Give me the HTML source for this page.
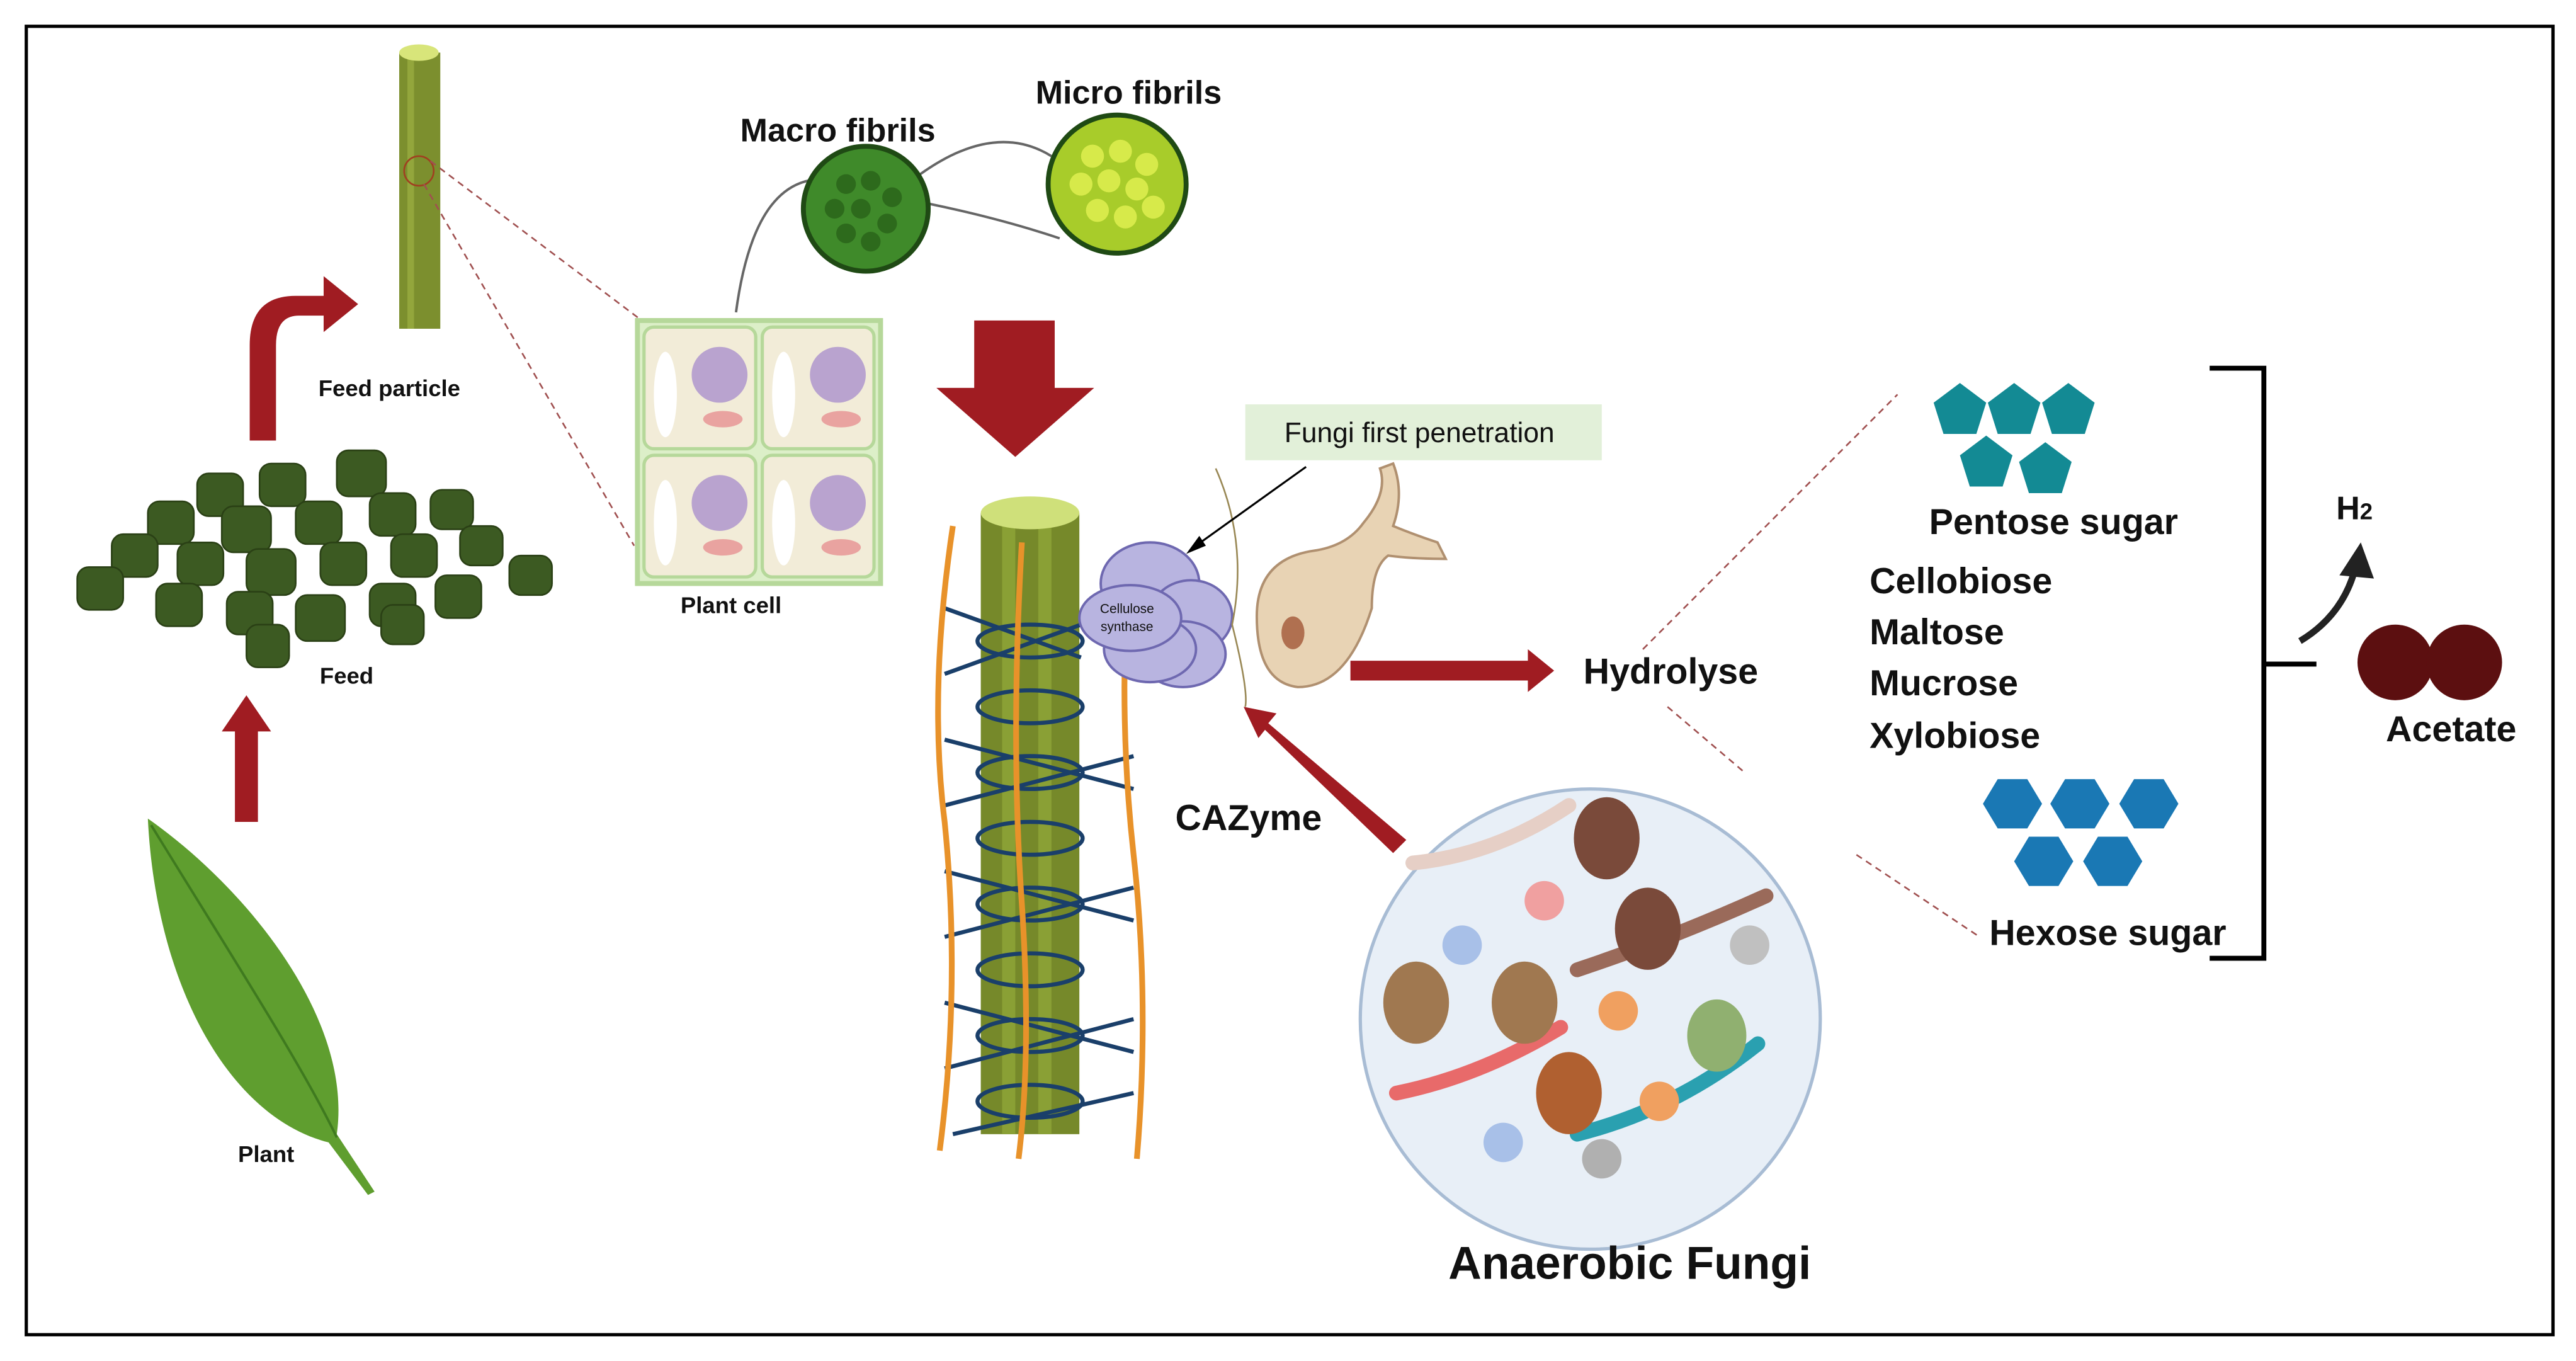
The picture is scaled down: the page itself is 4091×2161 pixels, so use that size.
<!DOCTYPE html>
<html><head><meta charset="utf-8"><style>
html,body{margin:0;padding:0;background:#fff}
svg{display:block}
text{font-family:"Liberation Sans",sans-serif;fill:#111}
.b{font-weight:bold}
</style></head><body>
<svg width="4091" height="2161" viewBox="0 0 1568 828" preserveAspectRatio="none" xmlns="http://www.w3.org/2000/svg">
<rect x="0" y="0" width="1568" height="828" fill="#fff"/>
<rect x="16" y="16" width="1538" height="796" fill="none" stroke="#000" stroke-width="2"/>

<!-- Leaf -->
<path d="M90,498 C150,540 215,620 205,690 L228,725 L224,727 L200,695 C140,680 95,600 90,498 Z" fill="#5f9e2f"/>
<path d="M92,502 C140,580 185,650 205,692" stroke="#3f7a1f" stroke-width="1.5" fill="none"/>
<text class="b" x="162" y="707" font-size="14" text-anchor="middle">Plant</text>

<path d="M143,500 L143,445 L135,445 L150,423 L165,445 L157,445 L157,500 Z" fill="#a01c22"/>

<!-- Feed pellets -->
<g fill="#3c5a22" stroke="#2a4015" stroke-width="1">
<rect x="120" y="288" width="28" height="26" rx="7"/><rect x="158" y="282" width="28" height="26" rx="7"/><rect x="205" y="274" width="30" height="28" rx="7"/>
<rect x="90" y="305" width="28" height="26" rx="7"/><rect x="135" y="308" width="30" height="28" rx="7"/><rect x="180" y="305" width="28" height="26" rx="7"/><rect x="225" y="300" width="28" height="26" rx="7"/><rect x="262" y="298" width="26" height="24" rx="7"/>
<rect x="68" y="325" width="28" height="26" rx="7"/><rect x="108" y="330" width="28" height="26" rx="7"/><rect x="150" y="334" width="30" height="28" rx="7"/><rect x="195" y="330" width="28" height="26" rx="7"/><rect x="238" y="325" width="28" height="26" rx="7"/><rect x="280" y="320" width="26" height="24" rx="7"/><rect x="310" y="338" width="26" height="24" rx="7"/>
<rect x="47" y="345" width="28" height="26" rx="7"/><rect x="95" y="355" width="28" height="26" rx="7"/><rect x="138" y="360" width="28" height="26" rx="7"/><rect x="180" y="362" width="30" height="28" rx="7"/><rect x="225" y="355" width="28" height="26" rx="7"/><rect x="265" y="350" width="28" height="26" rx="7"/><rect x="150" y="380" width="26" height="26" rx="7"/><rect x="232" y="368" width="26" height="24" rx="7"/>
</g>
<text class="b" x="211" y="416" font-size="14" text-anchor="middle">Feed</text>

<path d="M152,268 L152,210 Q152,180 180,180 L197,180 L197,168 L218,185 L197,202 L197,192 L182,192 Q168,192 168,210 L168,268 Z" fill="#a01c22"/>

<rect x="243" y="32" width="25" height="168" fill="#7c8f2e"/>
<rect x="248" y="32" width="4" height="168" fill="#93a63c"/>
<ellipse cx="255" cy="32" rx="12" ry="5" fill="#d8e57a"/>
<circle cx="255" cy="104" r="9" fill="none" stroke="#a04020" stroke-width="1"/>
<text class="b" x="237" y="241" font-size="14" text-anchor="middle">Feed particle</text>
<path d="M262,98 L392,196 M258,112 L386,332" stroke="#a05050" stroke-width="1" stroke-dasharray="4,3" fill="none"/>

<!-- Plant cell -->
<rect x="388" y="195" width="148" height="160" fill="#dcefc8" stroke="#b6d89a" stroke-width="3"/>
<g fill="#f2ecd8" stroke="#b6d89a" stroke-width="2">
<rect x="392" y="199" width="68" height="74" rx="6"/><rect x="464" y="199" width="68" height="74" rx="6"/>
<rect x="392" y="277" width="68" height="74" rx="6"/><rect x="464" y="277" width="68" height="74" rx="6"/>
</g>
<g fill="#b9a3cf"><circle cx="438" cy="228" r="17"/><circle cx="510" cy="228" r="17"/><circle cx="438" cy="306" r="17"/><circle cx="510" cy="306" r="17"/></g>
<g fill="#e9a3a0"><ellipse cx="440" cy="255" rx="12" ry="5"/><ellipse cx="512" cy="255" rx="12" ry="5"/><ellipse cx="440" cy="333" rx="12" ry="5"/><ellipse cx="512" cy="333" rx="12" ry="5"/></g>
<g fill="#fff"><ellipse cx="405" cy="240" rx="7" ry="26"/><ellipse cx="477" cy="240" rx="7" ry="26"/><ellipse cx="405" cy="318" rx="7" ry="26"/><ellipse cx="477" cy="318" rx="7" ry="26"/></g>
<text class="b" x="445" y="373" font-size="14" text-anchor="middle">Plant cell</text>

<path d="M448,190 Q460,100 510,110 M545,118 Q600,70 640,95 M545,120 Q600,130 645,145" stroke="#666" stroke-width="1.5" fill="none"/>
<circle cx="527" cy="127" r="38" fill="#3f8a2a" stroke="#1f4a14" stroke-width="3"/>
<g fill="#2d6a1c"><circle cx="515" cy="112" r="6"/><circle cx="530" cy="110" r="6"/><circle cx="543" cy="120" r="6"/><circle cx="508" cy="127" r="6"/><circle cx="524" cy="127" r="6"/><circle cx="540" cy="136" r="6"/><circle cx="515" cy="142" r="6"/><circle cx="530" cy="147" r="6"/></g>
<circle cx="680" cy="112" r="42" fill="#a8cc2a" stroke="#1f4a14" stroke-width="3"/>
<g fill="#d7ea4a"><circle cx="665" cy="95" r="7"/><circle cx="682" cy="92" r="7"/><circle cx="698" cy="100" r="7"/><circle cx="658" cy="112" r="7"/><circle cx="675" cy="110" r="7"/><circle cx="692" cy="115" r="7"/><circle cx="668" cy="128" r="7"/><circle cx="685" cy="132" r="7"/><circle cx="702" cy="126" r="7"/></g>
<text class="b" x="510" y="86" font-size="20" text-anchor="middle">Macro fibrils</text>
<text class="b" x="687" y="63" font-size="20" text-anchor="middle">Micro fibrils</text>

<path d="M593,195 L642,195 L642,236 L666,236 L618,278 L570,236 L593,236 Z" fill="#a01c22"/>

<!-- fibre bundle -->
<rect x="597" y="312" width="60" height="378" fill="#76892a"/>
<rect x="610" y="312" width="8" height="378" fill="#8aa035"/>
<rect x="632" y="312" width="8" height="378" fill="#8aa035"/>
<ellipse cx="627" cy="312" rx="30" ry="10" fill="#cfe07a"/>
<g stroke="#1a3f6a" stroke-width="2.5" fill="none">
<path d="M575,370 L658,400 M575,410 L658,380 M575,450 L690,480 M575,490 L690,460 M575,530 L690,560 M575,570 L690,540 M575,610 L690,640 M575,650 L690,620 M580,690 L690,665"/>
<ellipse cx="627" cy="390" rx="32" ry="10"/><ellipse cx="627" cy="430" rx="32" ry="10"/><ellipse cx="627" cy="470" rx="32" ry="10"/><ellipse cx="627" cy="510" rx="32" ry="10"/><ellipse cx="627" cy="550" rx="32" ry="10"/><ellipse cx="627" cy="590" rx="32" ry="10"/><ellipse cx="627" cy="630" rx="32" ry="10"/><ellipse cx="627" cy="670" rx="32" ry="10"/>
</g>
<g stroke="#e8922a" stroke-width="3.5" fill="none">
<path d="M580,320 Q565,420 575,500 Q585,600 572,700"/>
<path d="M622,330 Q615,450 622,550 Q628,640 620,705"/>
<path d="M688,335 Q680,430 690,520 Q700,610 692,705"/>
</g>

<g fill="#b8b4e0" stroke="#6e68b0" stroke-width="1.5">
<ellipse cx="700" cy="355" rx="30" ry="25"/><ellipse cx="725" cy="375" rx="25" ry="22"/><ellipse cx="720" cy="398" rx="26" ry="20"/><ellipse cx="700" cy="395" rx="28" ry="20"/><ellipse cx="688" cy="376" rx="31" ry="20"/>
</g>
<text x="686" y="373" font-size="8" text-anchor="middle">Cellulose</text>
<text x="686" y="384" font-size="8" text-anchor="middle">synthase</text>
<path d="M740,285 Q760,330 750,380 Q760,420 758,430" stroke="#998855" stroke-width="1" fill="none"/>
<path d="M765,375 Q765,340 800,335 Q820,332 830,318 Q845,300 840,285 L848,282 Q855,300 848,320 Q860,325 875,330 L880,340 Q860,340 845,338 Q835,345 835,370 Q820,418 790,418 Q765,415 765,375 Z" fill="#e8d3b4" stroke="#b09070" stroke-width="1.5"/>
<ellipse cx="787" cy="385" rx="7" ry="10" fill="#b07050"/>

<rect x="758" y="246" width="217" height="34" fill="#e2f0d9"/>
<text x="864" y="269" font-size="17" text-anchor="middle">Fungi first penetration</text>
<path d="M795,284 L728,332" stroke="#000" stroke-width="1.2"/>
<path d="M722,337 L730,326 L734,332 Z" fill="#000"/>

<path d="M822,402 L930,402 L930,395 L946,408 L930,421 L930,414 L822,414 Z" fill="#a01c22"/>
<text class="b" x="1017" y="416" font-size="22" text-anchor="middle">Hydrolyse</text>

<path d="M856,511 L772,440 L777,434 L757,430 L766,449 L770,444 L848,519 Z" fill="#a01c22"/>
<text class="b" x="760" y="505" font-size="22" text-anchor="middle">CAZyme</text>

<!-- fungi circle -->
<circle cx="968" cy="620" r="140" fill="#e8eff7" stroke="#a8bcd4" stroke-width="2"/>
<g stroke-width="9" fill="none" stroke-linecap="round">
<path d="M860,525 Q910,520 955,490" stroke="#e6cfc6"/>
<path d="M960,590 Q1020,570 1075,545" stroke="#9a6a5a"/>
<path d="M850,665 Q900,655 950,625" stroke="#e86a6a"/>
<path d="M960,690 Q1020,675 1070,635" stroke="#2aa0b0"/>
</g>
<g>
<ellipse cx="978" cy="510" rx="20" ry="25" fill="#7a4a3a"/>
<ellipse cx="1003" cy="565" rx="20" ry="25" fill="#7a4a3a"/>
<ellipse cx="862" cy="610" rx="20" ry="25" fill="#a07850"/>
<ellipse cx="928" cy="610" rx="20" ry="25" fill="#a07850"/>
<ellipse cx="955" cy="665" rx="20" ry="25" fill="#b06030"/>
<ellipse cx="1045" cy="630" rx="18" ry="22" fill="#90b070"/>
<circle cx="890" cy="575" r="12" fill="#a8c0e8"/>
<circle cx="940" cy="548" r="12" fill="#f0a0a0"/>
<circle cx="985" cy="615" r="12" fill="#f0a060"/>
<circle cx="1065" cy="575" r="12" fill="#c0c0c0"/>
<circle cx="915" cy="695" r="12" fill="#a8c0e8"/>
<circle cx="975" cy="705" r="12" fill="#b0b0b0"/>
<circle cx="1010" cy="670" r="12" fill="#f0a060"/>
</g>
<text class="b" x="992" y="778" font-size="28" text-anchor="middle">Anaerobic Fungi</text>

<path d="M1000,395 L1155,240 M1015,430 L1062,470 M1130,520 L1205,570" stroke="#a05050" stroke-width="1" stroke-dasharray="4,3" fill="none"/>

<g fill="#138a94">
<polygon points="1193,233 1209,245 1203,264 1183,264 1177,245"/>
<polygon points="1226,233 1242,245 1236,264 1216,264 1210,245"/>
<polygon points="1259,233 1275,245 1269,264 1249,264 1243,245"/>
<polygon points="1209,265 1225,277 1219,296 1199,296 1193,277"/>
<polygon points="1245,269 1261,281 1255,300 1235,300 1229,281"/>
</g>
<text class="b" x="1250" y="325" font-size="22" text-anchor="middle">Pentose sugar</text>
<text class="b" x="1138" y="361" font-size="22">Cellobiose</text>
<text class="b" x="1138" y="392" font-size="22">Maltose</text>
<text class="b" x="1138" y="423" font-size="22">Mucrose</text>
<text class="b" x="1138" y="455" font-size="22">Xylobiose</text>

<g fill="#1a78b4">
<polygon points="1207,489 1216,474 1234,474 1243,489 1234,504 1216,504"/>
<polygon points="1248,489 1257,474 1275,474 1284,489 1275,504 1257,504"/>
<polygon points="1290,489 1299,474 1317,474 1326,489 1317,504 1299,504"/>
<polygon points="1226,524 1235,509 1253,509 1262,524 1253,539 1235,539"/>
<polygon points="1268,524 1277,509 1295,509 1304,524 1295,539 1277,539"/>
</g>
<text class="b" x="1283" y="575" font-size="22" text-anchor="middle">Hexose sugar</text>

<path d="M1345,224 L1378,224 L1378,583 L1345,583 M1378,404 L1410,404" stroke="#000" stroke-width="3" fill="none"/>

<text class="b" x="1422" y="316" font-size="20">H<tspan font-size="14">2</tspan></text>
<path d="M1400,390 Q1425,375 1433,348" stroke="#222" stroke-width="4" fill="none"/>
<polygon points="1424,350 1437,330 1445,352" fill="#222"/>

<circle cx="1458" cy="403" r="23" fill="#5c0f10"/>
<circle cx="1500" cy="403" r="23" fill="#5c0f10"/>
<text class="b" x="1492" y="451" font-size="22" text-anchor="middle">Acetate</text>
</svg>
</body></html>
